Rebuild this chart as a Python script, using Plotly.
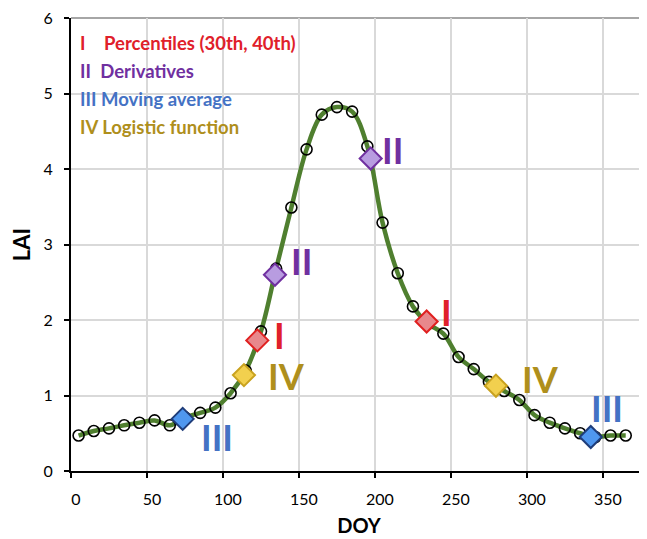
import plotly.graph_objects as go

# ---- data ----
doy = [5, 15, 25, 35, 45, 55, 65, 75, 85, 95, 105, 115, 125, 135, 145, 155, 165, 175,
       185, 195, 205, 215, 225, 235, 245, 255, 265, 275, 285, 295, 305, 315, 325, 335,
       345, 355, 365]
lai = [0.47, 0.53, 0.565, 0.605, 0.64, 0.67, 0.605, 0.71, 0.77, 0.84, 1.03, 1.33, 1.85,
       2.68, 3.49, 4.26, 4.72, 4.82, 4.76, 4.30, 3.29, 2.62, 2.18, 1.95, 1.82, 1.51, 1.35,
       1.18, 1.06, 0.94, 0.74, 0.64, 0.565, 0.50, 0.45, 0.47, 0.47]

methods = ["I", "II", "III", "IV"]
method_names = ["Percentiles (30th, 40th)", "Derivatives", "Moving average", "Logistic function"]
method_doy = [[122.6, 234.0], [134.2, 197.2], [73.5, 342.0], [113.8, 279.6]]
method_lai = [[1.73, 1.98], [2.60, 4.14], [0.69, 0.45], [1.27, 1.13]]

# label positions for roman numerals next to markers
label_doy = [[137.5, 247.2], [151.8, 211.4], [95.8, 352.4], [141.9, 309.0]]
label_lai = [[1.80, 2.10], [2.78, 4.25], [0.45, 0.83], [1.26, 1.22]]

x_ticks = [0, 50, 100, 150, 200, 250, 300, 350]

# ---- styles ----
text_colors = ["#E0202A", "#7030A0", "#4472C4", "#AF8F1C"]
fill_colors = ["#E8888C", "#B89CE0", "#4F97EF", "#F2D04E"]
edge_colors = ["#E02020", "#7030A0", "#1F3D7A", "#C9A21F"]
FONT = "Lato"

fig = go.Figure()

fig.add_trace(go.Scatter(
    x=doy, y=lai, mode="lines",
    line=dict(color="#4F7F2F", width=4.5, shape="spline", smoothing=1.0),
    hoverinfo="skip", showlegend=False))
fig.add_trace(go.Scatter(
    x=doy, y=lai, mode="markers",
    marker=dict(symbol="circle-open", size=11, color="black", line=dict(width=1.6)),
    showlegend=False))

for i, m in enumerate(methods):
    fig.add_trace(go.Scatter(
        x=method_doy[i], y=method_lai[i], mode="markers",
        marker=dict(symbol="diamond", size=17, color=fill_colors[i],
                    line=dict(color=edge_colors[i], width=2)),
        name=m, showlegend=False))
    for xx, yy in zip(label_doy[i], label_lai[i]):
        fig.add_annotation(x=xx, y=yy, text=f"<b>{m}</b>", showarrow=False,
                           font=dict(family=FONT, size=36, color=text_colors[i]),
                           xanchor="center", yanchor="middle")

# legend-like text block
legend_y = [5.67, 5.30, 4.93, 4.56]
for i, m in enumerate(methods):
    sep = "\u2002\u2002" if m == "I" else ("\u2002" if m == "II" else " ")
    fig.add_annotation(x=4.6, y=legend_y[i], text=f"<b>{m}{sep}{method_names[i]}</b>",
                       showarrow=False, xanchor="left", yanchor="middle",
                       font=dict(family=FONT, size=18.5, color=text_colors[i]))

fig.update_xaxes(
    range=[0, 379], tickvals=x_ticks,
    showgrid=True, gridcolor="#D9D9D9", gridwidth=1.5,
    showline=True, linecolor="black", linewidth=2,
    ticks="outside", ticklen=5, tickwidth=2, tickcolor="black",
    zeroline=False, ticklabelshift=5, ticklabelstandoff=8,
    ticklabeloverflow="allow",
    tickfont=dict(family=FONT, size=16, color="black"),
    title=dict(text="<b>DOY</b>", font=dict(family=FONT, size=20, color="black"), standoff=12),
)
fig.update_yaxes(
    range=[0, 6], dtick=1,
    showgrid=True, gridcolor="#D9D9D9", gridwidth=1.5,
    showline=True, linecolor="black", linewidth=2,
    ticks="outside", ticklen=5, tickwidth=2, tickcolor="black",
    zeroline=False, ticklabelstandoff=8,
    ticklabeloverflow="allow",
    tickfont=dict(family=FONT, size=16, color="black"),
    title=dict(text="<b>LAI</b>", font=dict(family=FONT, size=22, color="black"), standoff=10),
)

fig.add_shape(type="line", xref="paper", yref="paper", x0=0, x1=1, y0=1, y1=1,
              line=dict(color="#A6A6A6", width=2), layer="below")

# page body has an 8px default margin: size the figure to compensate
fig.update_layout(
    width=639, height=531,
    margin=dict(l=63, r=0, t=10, b=68, autoexpand=False),
    plot_bgcolor="white", paper_bgcolor="white",
    showlegend=False,
)

fig.write_html("out.html")
